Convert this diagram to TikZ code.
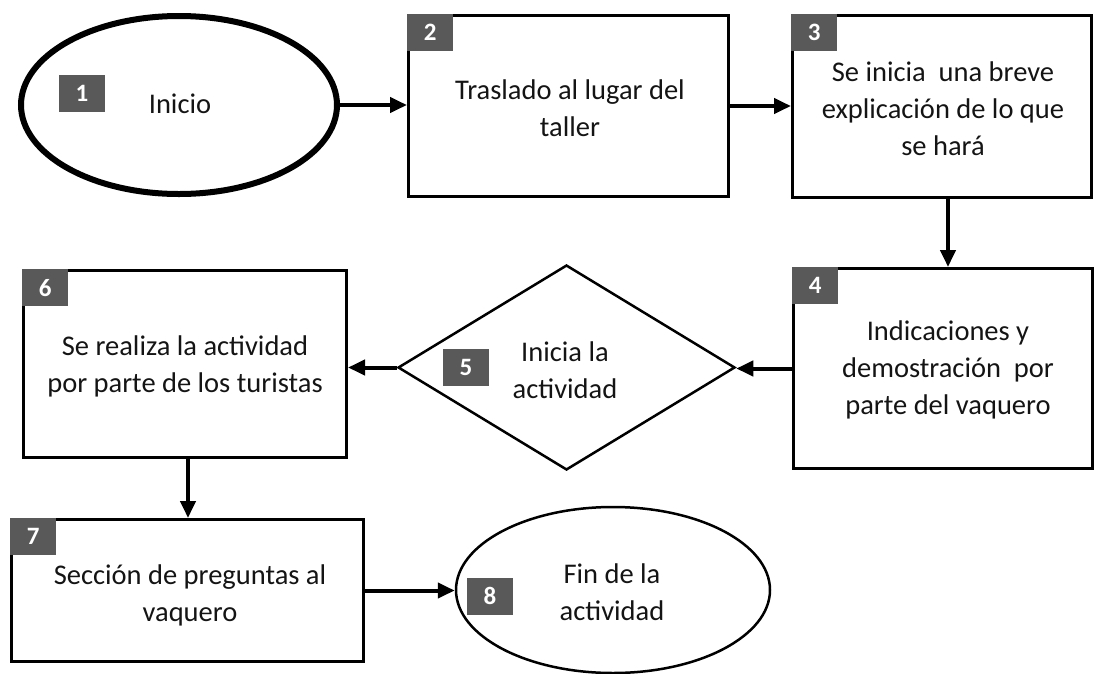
\documentclass[tikz,border=0pt]{standalone}
\usepackage{fontspec}
\setmainfont{Carlito}
\usetikzlibrary{shapes.geometric,arrows.meta}
\definecolor{badgegray}{HTML}{595959}
\definecolor{txt}{HTML}{141414}
\tikzset{
  box/.style={draw, line width=3pt, inner sep=0pt, rectangle},
  txtnode/.style={align=center, text=txt, inner sep=0pt, font=\fontsize{28.5}{37}\selectfont},
  badge/.style={fill=badgegray, text=white, inner sep=0pt, minimum width=46pt, minimum height=37pt, font=\bfseries\fontsize{25}{25}\selectfont},
  flow/.style={line width=4pt, -{Triangle[length=17pt,width=15pt]}},
}
\begin{document}
\begin{tikzpicture}[x=1pt,y=-1pt]
\useasboundingbox (0,0) rectangle (1096,673);
% shapes
\node[draw, ellipse, line width=6pt, minimum width=316pt, minimum height=178pt, inner sep=0pt] (e1) at (179,105) {};
\node[box, minimum width=320pt, minimum height=181pt] (b2) at (568.5,106) {};
\node[box, minimum width=299pt, minimum height=182pt] (b3) at (942,106.5) {};
\node[box, minimum width=299pt, minimum height=200pt] (b4) at (943,368.5) {};
\node[draw, diamond, line width=2.5pt, minimum width=337pt, minimum height=205pt, inner sep=0pt] (d5) at (566.5,367.5) {};
\node[box, minimum width=323pt, minimum height=187pt] (b6) at (185,364) {};
\node[box, minimum width=352pt, minimum height=142pt] (b7) at (187.5,590.5) {};
\node[draw, ellipse, line width=2.5pt, minimum width=314pt, minimum height=166pt, inner sep=0pt] (e8) at (613,590) {};
% texts
\node[txtnode] (t1) at (180,104) {Inicio};
\node[txtnode] (t2) at (570,108.5) {Traslado al lugar del\\taller};
\node[txtnode] (t3) at (943,108.5) {Se inicia\ \ una breve\\explicación de lo que\\se hará};
\node[txtnode] (t4) at (948,370) {Indicaciones y\\demostración\ \ por\\parte del vaquero};
\node[txtnode] (t5) at (565,370) {Inicia la\\actividad};
\node[txtnode] (t6) at (185,366.5) {Se realiza la actividad\\por parte de los turistas};
\node[txtnode] (t7) at (190,595) {Sección de preguntas al\\vaquero};
\node[txtnode] (t8) at (612,592.5) {Fin de la\\actividad};
% badges
\node[badge] (n1) at (82,93.5) {1};
\node[badge, anchor=north west] (n2) at (b2.north west) {2};
\node[badge, anchor=north west] (n3) at (b3.north west) {3};
\node[badge, anchor=north west] (n4) at (b4.north west) {4};
\node[badge] (n5) at (466,367.5) {5};
\node[badge, anchor=north west] (n6) at (b6.north west) {6};
\node[badge, anchor=north west] (n7) at (b7.north west) {7};
\node[badge] (n8) at (490,596) {8};
% connectors
\draw[flow] (e1.east) -- (e1.east -| b2.west);
\draw[flow] (b2.east) -- (b2.east -| b3.west);
\draw[flow] ([xshift=6pt]b3.south) -- ([xshift=6pt]b3.south |- b4.north);
\draw[flow] (b4.west) -- (b4.west -| d5.east);
\draw[flow] (d5.west) -- (d5.west -| b6.east);
\draw[flow] ([xshift=3pt]b6.south) -- ([xshift=3pt]b6.south |- b7.north);
\draw[flow] (b7.east) -- (b7.east -| e8.west);
\end{tikzpicture}
\end{document}
